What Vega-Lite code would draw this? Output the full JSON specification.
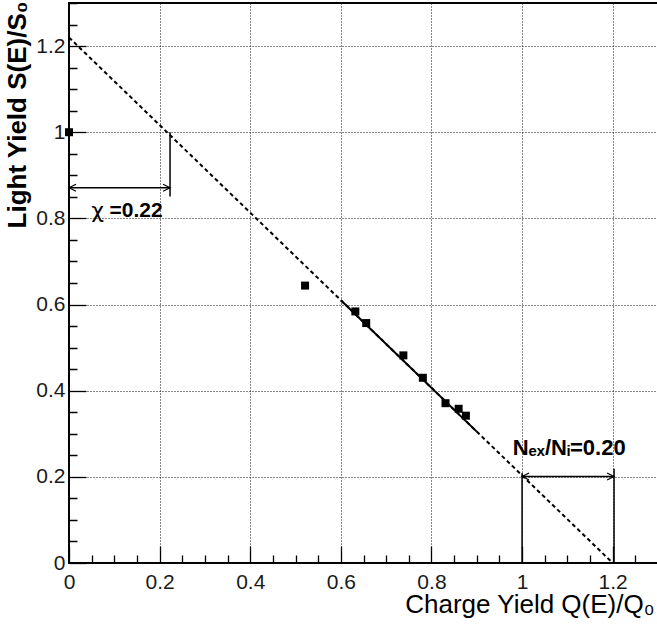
{
  "$schema": "https://vega.github.io/schema/vega-lite/v6.json",
  "width": 589,
  "height": 560,
  "autosize": {"type": "none"},
  "padding": {"left": 69, "top": 3, "right": 0, "bottom": 68},
  "background": "white",
  "config": {
    "view": {"stroke": "black", "strokeWidth": 2},
    "font": "Liberation Sans",
    "axis": {
      "ticks": true,
      "domain": false,
      "tickColor": "black",
      "tickOpacity": 1,
      "tickWidth": 1.3,
      "labelFont": "Liberation Sans",
      "labelFontSize": 21,
      "labelColor": "#1a1a1a",
      "labelOverlap": false,
      "labelFlush": false,
      "labelBound": false,
      "titleFont": "Liberation Sans",
      "titleFontSize": 26,
      "titleColor": "black",
      "gridColor": "#111111",
      "gridDash": [1, 2],
      "gridWidth": 1
    }
  },
  "datasets": {
    "pts": [
      {"x": 0.0, "y": 1.0},
      {"x": 0.521, "y": 0.644},
      {"x": 0.632, "y": 0.584},
      {"x": 0.656, "y": 0.557},
      {"x": 0.738, "y": 0.482},
      {"x": 0.781, "y": 0.43},
      {"x": 0.831, "y": 0.371},
      {"x": 0.86, "y": 0.358},
      {"x": 0.876, "y": 0.342}
    ],
    "dashfit": [{"x": 0.0, "y": 1.22}, {"x": 1.2, "y": 0.0}],
    "solidfit": [{"x": 0.6, "y": 0.61}, {"x": 0.9, "y": 0.305}],
    "rules": [
      {"x": 0.223, "x2": 0.223, "y": 1.0, "y2": 0.851},
      {"x": 0.0, "x2": 0.223, "y": 0.871, "y2": 0.871},
      {"x": 1.0, "x2": 1.0, "y": 0.209, "y2": 0.0},
      {"x": 1.203, "x2": 1.203, "y": 0.219, "y2": 0.0},
      {"x": 1.0, "x2": 1.203, "y": 0.201, "y2": 0.201}
    ],
    "arrows": [
      {"x": 0.0, "y": 0.871, "dir": "left"},
      {"x": 0.223, "y": 0.871, "dir": "right"},
      {"x": 1.0, "y": 0.201, "dir": "left"},
      {"x": 1.203, "y": 0.201, "dir": "right"}
    ],
    "chi": [{"x": 0.049, "y": 0.816, "t": "χ"}],
    "chival": [{"x": 0.0893, "y": 0.816, "t": "=0.22"}],
    "nlab": [{"x": 1.104, "y": 0.266, "t": "Nₑₓ/Nᵢ=0.20"}]
  },
  "encoding": {
    "x": {
      "field": "x",
      "type": "quantitative",
      "scale": {"domain": [0, 1.3], "nice": false, "zero": false},
      "axis": {
        "values": [0, 0.05, 0.1, 0.15, 0.2, 0.25, 0.3, 0.35, 0.4, 0.45, 0.5, 0.55, 0.6, 0.65, 0.7, 0.75, 0.8, 0.85, 0.9, 0.95, 1.0, 1.05, 1.1, 1.15, 1.2, 1.25, 1.3],
        "offset": -17,
        "tickSize": 17,
        "tickDash": {"condition": {"test": "abs(datum.value*5 - round(datum.value*5)) < 0.000001", "value": [40, 40]}, "value": [0, 9, 8, 100]},
        "gridOpacity": {"condition": {"test": "abs(datum.value*5 - round(datum.value*5)) < 0.000001", "value": 1}, "value": 0},
        "labelExpr": "abs(datum.value*5 - round(datum.value*5)) < 0.000001 ? format(datum.value, '~g') : ''",
        "labelPadding": 8,
        "title": "Charge Yield Q(E)/Q₀",
        "titleFontWeight": "normal",
        "titleAnchor": "end",
        "titleAlign": "right",
        "titleBaseline": "alphabetic",
        "titleX": 585,
        "titleY": 66
      }
    },
    "y": {
      "field": "y",
      "type": "quantitative",
      "scale": {"domain": [0, 1.3], "nice": false, "zero": false},
      "axis": {
        "values": [0, 0.05, 0.1, 0.15, 0.2, 0.25, 0.3, 0.35, 0.4, 0.45, 0.5, 0.55, 0.6, 0.65, 0.7, 0.75, 0.8, 0.85, 0.9, 0.95, 1.0, 1.05, 1.1, 1.15, 1.2, 1.25, 1.3],
        "offset": -17,
        "tickSize": 17,
        "tickDash": {"condition": {"test": "abs(datum.value*5 - round(datum.value*5)) < 0.000001", "value": [40, 40]}, "value": [0, 9, 8, 100]},
        "gridOpacity": {"condition": {"test": "abs(datum.value*5 - round(datum.value*5)) < 0.000001", "value": 1}, "value": 0},
        "labelExpr": "abs(datum.value*5 - round(datum.value*5)) < 0.000001 ? format(datum.value, '~g') : ''",
        "labelPadding": 4,
        "title": "Light Yield S(E)/S₀",
        "titleFontWeight": "bold",
        "titleAnchor": "end",
        "titleAlign": "right",
        "titleBaseline": "alphabetic",
        "titleAngle": -90,
        "titleX": -61,
        "titleY": -2
      }
    }
  },
  "layer": [
    {
      "data": {"name": "dashfit"},
      "mark": {"type": "line", "color": "black", "strokeWidth": 2, "strokeDash": [4, 3]}
    },
    {
      "data": {"name": "solidfit"},
      "mark": {"type": "line", "color": "black", "strokeWidth": 2}
    },
    {
      "data": {"name": "rules"},
      "mark": {"type": "rule", "color": "black", "strokeWidth": 1.5},
      "encoding": {"x2": {"field": "x2"}, "y2": {"field": "y2"}}
    },
    {
      "data": {"name": "arrows"},
      "mark": {"type": "point", "filled": false, "stroke": "black", "strokeWidth": 1.2, "size": 49, "opacity": 1},
      "encoding": {
        "shape": {
          "field": "dir",
          "type": "nominal",
          "scale": {"domain": ["left", "right"], "range": ["M2,-1L0,0L2,1", "M-2,-1L0,0L-2,1"]},
          "legend": null
        }
      }
    },
    {
      "data": {"name": "pts"},
      "mark": {"type": "point", "shape": "square", "filled": true, "color": "black", "size": 64, "opacity": 1}
    },
    {
      "data": {"name": "chi"},
      "mark": {"type": "text", "align": "left", "baseline": "middle", "fontSize": 22, "font": "DejaVu Sans", "color": "black"},
      "encoding": {"text": {"field": "t"}}
    },
    {
      "data": {"name": "chival"},
      "mark": {"type": "text", "align": "left", "baseline": "middle", "fontSize": 21, "fontWeight": "bold", "font": "Liberation Sans", "color": "black"},
      "encoding": {"text": {"field": "t"}}
    },
    {
      "data": {"name": "nlab"},
      "mark": {"type": "text", "align": "center", "baseline": "middle", "fontSize": 22, "fontWeight": "bold", "font": "Liberation Sans", "color": "black"},
      "encoding": {"text": {"field": "t"}}
    }
  ]
}
